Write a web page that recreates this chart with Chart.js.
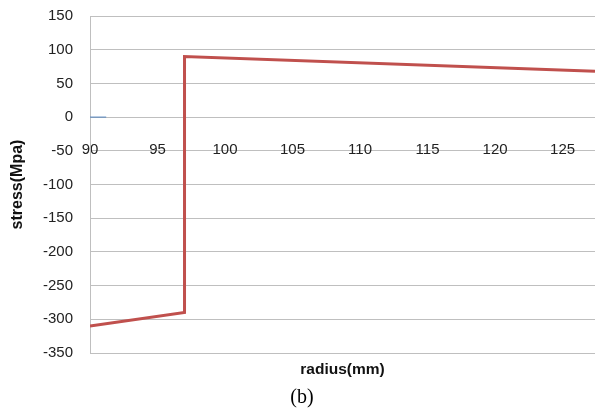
<!DOCTYPE html>
<html>
<head>
<meta charset="utf-8">
<script src="https://cdn.jsdelivr.net/npm/chart.js@4/dist/chart.umd.min.js"></script>
<style>
  html, body { margin: 0; padding: 0; background: #fff; }
  #wrap { width: 595px; height: 412px; position: relative; }
</style>
</head>
<body>
<div id="wrap"><canvas id="c" width="595" height="412"></canvas></div>
<script>
// Data
const radiusMm  = [90, 97, 97, 127.4];
const stressMpa = [-310, -290, 90, 68];
const blueRadius = [90, 91.2];
const blueStress = [0, 0];
const xTicks = [90, 95, 100, 105, 110, 115, 120, 125];
const yMin = -350, yMax = 150, yStep = 50;
const xTitle = 'radius(mm)';
const yTitle = 'stress(Mpa)';
const caption = '(b)';

const toPts = (xs, ys) => xs.map((x, i) => ({ x: x, y: ys[i] }));

const textPlugin = {
  id: 'texts',
  afterDraw(chart) {
    const ctx = chart.ctx;
    const a = chart.chartArea;
    ctx.save();
    ctx.fillStyle = '#111';
    ctx.textAlign = 'center';
    ctx.textBaseline = 'middle';
    ctx.font = 'bold 15.5px "Liberation Sans", Arial, sans-serif';
    ctx.fillText(xTitle, (a.left + a.right) / 2, 370);
    ctx.save();
    ctx.translate(18, (a.top + a.bottom) / 2);
    ctx.rotate(-Math.PI / 2);
    ctx.font = 'bold 16px "Liberation Sans", Arial, sans-serif';
    ctx.fillText(yTitle, 0, 0);
    ctx.restore();
    ctx.fillStyle = '#000';
    ctx.font = '20px "Liberation Serif", "Times New Roman", serif';
    ctx.fillText(caption, 302, 398);
    ctx.restore();
  }
};

function zeroPad(scale) {
  scale.paddingTop = 0;
  scale.paddingBottom = 0;
  scale.paddingLeft = 0;
  scale.paddingRight = 0;
}

new Chart(document.getElementById('c'), {
  type: 'line',
  data: {
    datasets: [
      {
        data: toPts(radiusMm, stressMpa),
        borderColor: '#C0504D',
        borderWidth: 3,
        pointRadius: 0,
        tension: 0,
        fill: false
      },
      {
        data: toPts(blueRadius, blueStress),
        borderColor: '#4F81BD',
        borderWidth: 1,
        pointRadius: 0,
        fill: false
      }
    ]
  },
  options: {
    responsive: false,
    animation: false,
    layout: { padding: { top: 16, bottom: 59, left: 0, right: 0 } },
    plugins: { legend: { display: false }, tooltip: { enabled: false } },
    scales: {
      x: {
        type: 'linear',
        min: 90,
        max: 127.4,
        position: { y: 0 },
        afterBuildTicks(scale) {
          scale.ticks = xTicks.map(v => ({ value: v }));
        },
        afterFit(scale) { zeroPad(scale); },
        grid: { display: false, drawTicks: false },
        border: { display: false },
        ticks: {
          padding: 24,
          maxRotation: 0,
          autoSkip: false,
          color: '#222',
          font: { family: '"Liberation Sans", Arial, sans-serif', size: 15 }
        }
      },
      y: {
        min: yMin,
        max: yMax,
        afterFit(scale) { scale.width = 90; zeroPad(scale); },
        ticks: {
          stepSize: yStep,
          padding: 17,
          color: '#222',
          font: { family: '"Liberation Sans", Arial, sans-serif', size: 15 }
        },
        grid: { color: '#BFBFBF', lineWidth: 1, drawTicks: false },
        border: { display: true, color: '#BFBFBF', width: 1 }
      }
    }
  },
  plugins: [textPlugin]
});
</script>
</body>
</html>
